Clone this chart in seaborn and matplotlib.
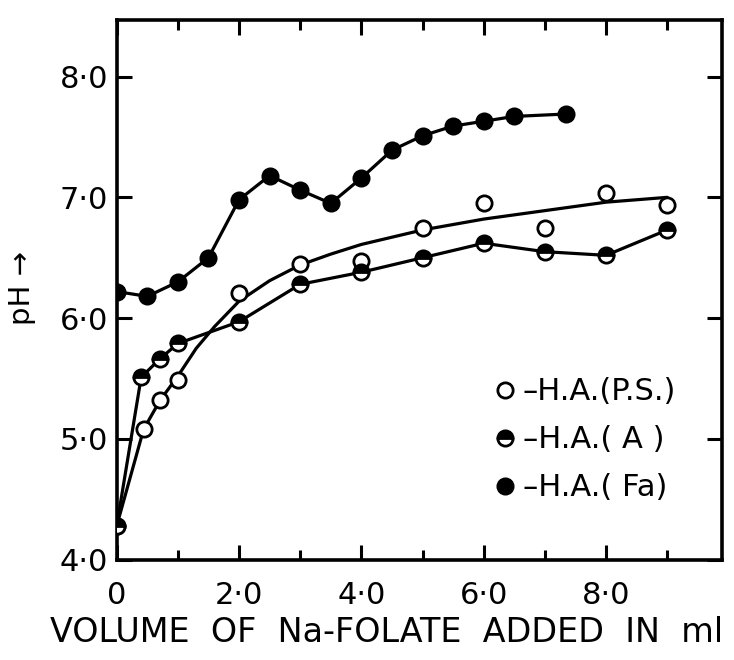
import matplotlib
matplotlib.use("Agg")
import matplotlib.pyplot as plt
from matplotlib.lines import Line2D
from matplotlib.ticker import MultipleLocator
import seaborn as sns
import pandas as pd

# H.A. (Fa) - filled circles, line through points
fa_x = [0, 0.5, 1.0, 1.5, 2.0, 2.5, 3.0, 3.5, 4.0, 4.5, 5.0, 5.5, 6.0, 6.5, 7.35]
fa_y = [6.22, 6.18, 6.30, 6.50, 6.98, 7.18, 7.06, 6.95, 7.16, 7.39, 7.51, 7.59, 7.63, 7.67, 7.69]

# H.A. (A) - half filled circles, line through points
a_x = [0, 0.4, 0.7, 1.0, 2.0, 3.0, 4.0, 5.0, 6.0, 7.0, 8.0, 9.0]
a_y = [4.28, 5.51, 5.66, 5.79, 5.97, 6.28, 6.38, 6.50, 6.62, 6.55, 6.52, 6.73]

# H.A. (P.S.) - open circles, scattered round a drawn curve
ps_x = [0, 0.44, 0.71, 1.0, 2.0, 3.0, 4.0, 5.0, 6.0, 7.0, 8.0, 9.0]
ps_y = [4.28, 5.08, 5.32, 5.49, 6.21, 6.45, 6.47, 6.75, 6.95, 6.75, 7.04, 6.94]
ps_curve_x = [0, 0.44, 0.71, 1.0, 1.3, 1.6, 2.0, 2.5, 3.0, 3.5, 4.0, 5.0, 6.0, 7.0, 8.0, 9.0]
ps_curve_y = [4.28, 5.08, 5.32, 5.52, 5.75, 5.93, 6.14, 6.31, 6.44, 6.53, 6.61, 6.73, 6.82, 6.89, 6.96, 7.00]

x_ticks = [0, 2, 4, 6, 8]
x_labels = ["0", "2·0", "4·0", "6·0", "8·0"]
y_ticks = [4, 5, 6, 7, 8]
y_labels = ["4·0", "5·0", "6·0", "7·0", "8·0"]

sns.set_style("ticks")
plt.rcParams["font.family"] = ["DejaVu Sans"]
plt.rcParams.update({"text.color": "black", "axes.labelcolor": "black",
                     "xtick.color": "black", "ytick.color": "black"})

fig = plt.figure(figsize=(7.34, 6.6), dpi=100)
ax = fig.add_axes([0.159, 0.152, 0.825, 0.818])

lw = 2.3
ms = 11
mew = 2.0

# lines first
sns.lineplot(x=ps_curve_x, y=ps_curve_y, color="black", lw=lw, ax=ax, zorder=2)
sns.lineplot(x=a_x, y=a_y, color="black", lw=lw, ax=ax, zorder=2)
sns.lineplot(x=fa_x, y=fa_y, color="black", lw=lw, ax=ax, zorder=2)

# markers
ps_df = pd.DataFrame({"x": ps_x, "y": ps_y})
ax.plot(ps_df["x"], ps_df["y"], ls="none", marker="o", ms=ms, mfc="white",
        mec="black", mew=mew, zorder=3)
ax.plot(a_x, a_y, ls="none", marker="o", ms=ms, fillstyle="top", mfc="black",
        markerfacecoloralt="white", mec="black", mew=mew, zorder=4)
ax.plot(fa_x, fa_y, ls="none", marker="o", ms=ms, mfc="black",
        mec="black", mew=mew, zorder=4)

ax.set_xlim(0, 9.9)
ax.set_ylim(4.0, 8.47)
ax.set_xticks(x_ticks)
ax.set_xticklabels(x_labels)
ax.xaxis.set_minor_locator(MultipleLocator(1))
ax.set_yticks(y_ticks)
ax.set_yticklabels(y_labels)

for s in ax.spines.values():
    s.set_linewidth(2.6)
    s.set_color("black")
ax.tick_params(axis="both", which="major", direction="in", length=11, width=2.2,
               top=True, right=True, labelsize=22, colors="black")
ax.tick_params(axis="x", which="major", pad=15)
ax.tick_params(axis="x", which="minor", direction="in", length=7, width=2.2, top=True)
ax.tick_params(axis="y", which="major", pad=6)

ax.set_xlabel("")
ax.set_ylabel("")
fig.text(0.068, 1 - 632 / 660, "VOLUME  OF  Na-FOLATE  ADDED  IN  ml", fontsize=24,
         ha="left", va="center")
fig.text(0.03, 1 - 288 / 660, "pH \u2192", fontsize=21, rotation=90,
         ha="center", va="center")

handles = [
    Line2D([], [], ls="none", marker="o", ms=ms, mfc="white", mec="black", mew=mew),
    Line2D([], [], ls="none", marker="o", ms=ms, fillstyle="top", mfc="black",
           markerfacecoloralt="white", mec="black", mew=mew),
    Line2D([], [], ls="none", marker="o", ms=ms, mfc="black", mec="black", mew=mew),
]
labels = ["–H.A.(P.S.)", "–H.A.( A )", "–H.A.( Fa)"]
ax.legend(handles, labels, loc="center left", bbox_to_anchor=(0.595, 0.222),
          frameon=False, fontsize=22, handlelength=0.8, handletextpad=0.2,
          labelspacing=0.62, borderpad=0)

fig.savefig("out.png", dpi=100)
